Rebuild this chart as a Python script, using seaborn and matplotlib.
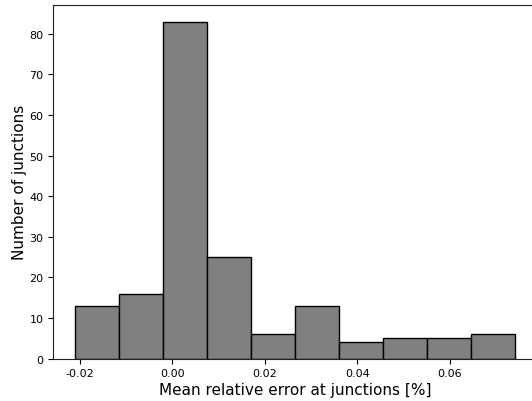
import numpy as np
import pandas as pd
import matplotlib
matplotlib.use("Agg")
import matplotlib.pyplot as plt
import seaborn as sns

# Histogram bins of the mean relative error (fraction) and junction counts per bin
bin_edges = [-0.0210, -0.0115, -0.0020, 0.0075, 0.0170, 0.0265,
             0.0360, 0.0455, 0.0550, 0.0645, 0.0740]
counts = [13, 16, 83, 25, 6, 13, 4, 5, 5, 6]
x_ticks = [-0.02, 0.00, 0.02, 0.04, 0.06]
y_ticks = [0, 10, 20, 30, 40, 50, 60, 70, 80]

centers = [(a + b) / 2 for a, b in zip(bin_edges[:-1], bin_edges[1:])]
df = pd.DataFrame({"error": centers, "n": counts})

sns.set_style("ticks", {"text.color": "black", "axes.labelcolor": "black",
                        "xtick.color": "black", "ytick.color": "black",
                        "axes.edgecolor": "#222222"})
plt.rcParams["font.family"] = ["DejaVu Sans"]

fig = plt.figure(figsize=(5.32, 4.02), dpi=100)
ax = fig.add_axes([0.100, 0.1057, 0.9085, 0.880])

sns.histplot(data=df, x="error", weights="n", bins=bin_edges,
             color="#808080", edgecolor="black", linewidth=1.0,
             alpha=1.0, ax=ax)

ax.set_xticks(x_ticks)
ax.set_xticklabels([f"{t:.2f}" for t in x_ticks])
ax.set_yticks(y_ticks)
ax.tick_params(labelsize=8, length=3.5, width=0.8)
ax.set_xlabel("Mean relative error at junctions [%]", fontsize=11, labelpad=3)
ax.set_ylabel("Number of junctions", fontsize=11, labelpad=2)
for s in ax.spines.values():
    s.set_linewidth(0.8)

fig.savefig("out.png", dpi=100)
